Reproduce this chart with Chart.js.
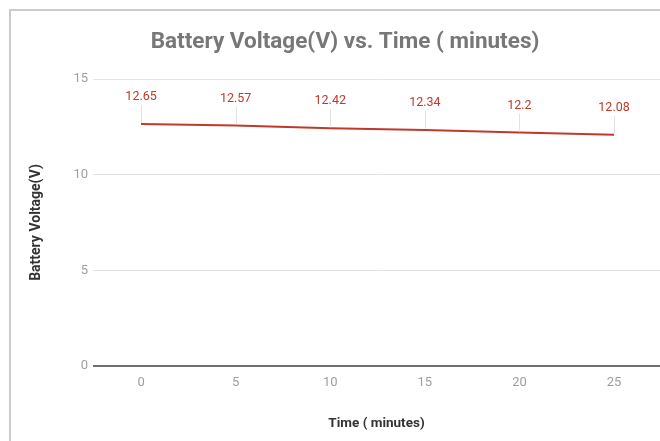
<!DOCTYPE html>
<html>
<head>
<meta charset="utf-8">
<script src="https://cdn.jsdelivr.net/npm/chart.js@4"></script>
<style>
  html, body { margin: 0; padding: 0; background: #fff; }
  #wrap { position: relative; width: 660px; height: 441px; overflow: hidden; }
  #frame { position: absolute; left: 9px; top: 9px; right: -5px; bottom: -5px;
           border-left: 2px solid #cbcbcb; border-top: 2px solid #cbcbcb; }
  #voltChart { position: absolute; left: 0; top: 0; }
</style>
</head>
<body>
<div id="wrap">
  <div id="frame"></div>
  <canvas id="voltChart" width="660" height="441"></canvas>
</div>
<script>
// data
const times = [0, 5, 10, 15, 20, 25];
const voltages = [12.65, 12.57, 12.42, 12.34, 12.2, 12.08];
const yTicks = [0, 5, 10, 15];
const xTicks = [0, 5, 10, 15, 20, 25];

const lineColor = '#c0392b';

// title + value labels with small leader lines
const annotate = {
  id: 'annotate',
  afterDatasetsDraw(chart) {
    const ctx = chart.ctx;
    const meta = chart.getDatasetMeta(0);
    ctx.save();
    ctx.font = 'bold 22.5px Roboto';
    ctx.fillStyle = '#777777';
    ctx.textAlign = 'center';
    ctx.textBaseline = 'middle';
    ctx.fillText('Battery Voltage(V) vs. Time ( minutes)', 345, 42);

    ctx.font = '12.5px Roboto';
    meta.data.forEach((pt, i) => {
      ctx.strokeStyle = '#e2e2e2';
      ctx.lineWidth = 1;
      ctx.beginPath();
      ctx.moveTo(Math.round(pt.x) + 0.5, pt.y - 19);
      ctx.lineTo(Math.round(pt.x) + 0.5, pt.y - 1);
      ctx.stroke();
      ctx.fillStyle = '#c0392b';
      ctx.fillText(String(voltages[i]), pt.x, pt.y - 27);
    });
    ctx.restore();
  }
};

window.addEventListener('DOMContentLoaded', function() {
  const ctx = document.getElementById('voltChart').getContext('2d');
  new Chart(ctx, {
    type: 'line',
    data: {
      datasets: [{
        label: 'Battery Voltage(V)',
        data: times.map((t, i) => ({ x: t, y: voltages[i] })),
        borderColor: lineColor,
        borderWidth: 2,
        pointRadius: 0,
        tension: 0
      }]
    },
    options: {
      responsive: false,
      animation: false,
      layout: { padding: { top: 79, left: 0, right: 0, bottom: 0 } },
      plugins: {
        legend: { display: false },
        title: { display: false },
        tooltip: { enabled: false }
      },
      scales: {
        x: {
          type: 'linear',
          min: -2.54,
          max: 27.43,
          afterFit: (s) => { s.height = 75; },
          afterBuildTicks: (s) => { s.ticks = xTicks.map(v => ({ value: v })); },
          grid: { display: false, drawTicks: false },
          border: { display: false },
          ticks: { includeBounds: false, padding: 9, color: '#9e9e9e', font: { family: 'Roboto', size: 13 } },
          title: {
            display: true,
            text: 'Time ( minutes)',
            color: '#333333',
            font: { family: 'Roboto', size: 13.5, weight: 'bold' },
            padding: { top: 0, bottom: 9 }
          }
        },
        y: {
          min: 0,
          max: 15,
          afterFit: (s) => { s.width = 93; },
          afterBuildTicks: (s) => { s.ticks = yTicks.map(v => ({ value: v })); },
          grid: {
            drawTicks: false,
            color: (c) => c.tick && c.tick.value === 0 ? '#6e6e6e' : '#e3e3e3',
            lineWidth: (c) => c.tick && c.tick.value === 0 ? 2 : 1
          },
          border: { display: false },
          ticks: { padding: 5, color: '#9e9e9e', font: { family: 'Roboto', size: 13 } },
          title: {
            display: true,
            text: 'Battery Voltage(V)',
            color: '#333333',
            font: { family: 'Roboto', size: 14, weight: 'bold' },
            padding: { top: 28, bottom: 0 }
          }
        }
      }
    },
    plugins: [annotate]
  });
});
</script>
</body>
</html>
